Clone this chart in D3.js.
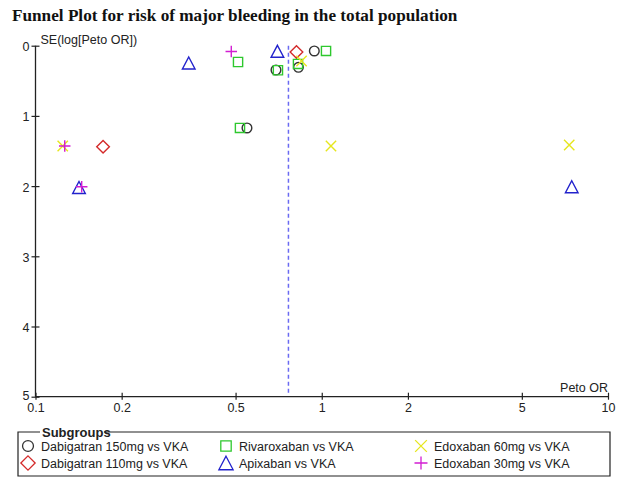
<!DOCTYPE html>
<html><head><meta charset="utf-8">
<script src="https://cdn.jsdelivr.net/npm/d3@7"></script>
<style>body{margin:0;background:#fff}svg{display:block}</style>
</head><body><svg id="c" width="630" height="479"></svg>
<script>
const title = "Funnel Plot for risk of major bleeding in the total population";
const yLabel = "SE(log[Peto OR])";
const xLabel = "Peto OR";
const xTicks = [0.1, 0.2, 0.5, 1, 2, 5, 10];
const xTickLabels = ["0.1", "0.2", "0.5", "1", "2", "5", "10"];
const yTicks = [0, 1, 2, 3, 4, 5];
const pooledOR = 0.765;

const seriesNames = ["Dabigatran 150mg vs VKA", "Dabigatran 110mg vs VKA", "Rivaroxaban vs VKA", "Apixaban vs VKA", "Edoxaban 60mg vs VKA", "Edoxaban 30mg vs VKA"];
const seriesShapes = ["circle", "diamond", "square", "triangle", "cross", "plus"];
const seriesColors = ["#333333", "#d42a2a", "#2ec82e", "#2222cc", "#e6e61e", "#d21ed2"];

const dab150OR = [0.942, 0.692, 0.829, 0.548];
const dab150SE = [0.075, 0.346, 0.308, 1.172];
const dab110OR = [0.816, 0.1722];
const dab110SE = [0.09, 1.439];
const rivaOR = [0.510, 1.035, 0.703, 0.826, 0.518];
const rivaSE = [0.232, 0.075, 0.35, 0.26, 1.172];
const apixOR = [0.343, 0.700, 0.1419, 7.47];
const apixSE = [0.246, 0.08, 2.02, 2.009];
const edo60OR = [0.850, 0.1245, 1.077, 7.32];
const edo60SE = [0.218, 1.429, 1.429, 1.415];
const edo30OR = [0.483, 0.1265, 0.145];
const edo30SE = [0.083, 1.429, 2.009];

const seriesOR = [dab150OR, dab110OR, rivaOR, apixOR, edo60OR, edo30OR];
const seriesSE = [dab150SE, dab110SE, rivaSE, apixSE, edo60SE, edo30SE];

const svg = d3.select("#c");
const x = d3.scaleLog().domain([0.1, 10]).range([35.5, 608]);
const y = d3.scaleLinear().domain([0, 5]).range([45.7, 396.7]);
const sans = "'Liberation Sans', Arial, sans-serif";

svg.append("text").attr("x", 12).attr("y", 21)
  .attr("font-family", "'Liberation Serif', 'Times New Roman', serif")
  .attr("font-weight", "bold").attr("font-size", 17.2).attr("fill", "#111").text(title);

// Y axis
const yAxis = svg.append("g").attr("transform", `translate(${x(0.1)},0)`)
  .call(d3.axisLeft(y).tickValues(yTicks).tickSize(4).tickFormat(d3.format("d")));
yAxis.selectAll(".tick line").attr("x1", 4).attr("x2", -4);
// X axis
const xAxis = svg.append("g").attr("transform", `translate(0,${y(5)})`)
  .call(d3.axisBottom(x).tickValues(xTicks).tickSize(3).tickFormat((d, i) => xTickLabels[i]));
xAxis.selectAll(".tick line").attr("y1", -4).attr("y2", 3);
[yAxis, xAxis].forEach(g => {
  g.select(".domain").attr("stroke", "#222").attr("stroke-width", 1.3);
  g.selectAll(".tick line").attr("stroke", "#222").attr("stroke-width", 1.2);
  g.selectAll(".tick text").attr("font-family", sans).attr("font-size", 12.5).attr("fill", "#222");
});
yAxis.selectAll(".tick text").attr("x", -6).attr("dy", "0.4em");
yAxis.selectAll(".tick").filter(d => d === 5).select("text").attr("dy", "0.22em");
xAxis.selectAll(".tick text").attr("y", 6);
yAxis.select(".domain").attr("d", `M0,${y(0)}V${y(5)}`);
xAxis.select(".domain").attr("d", `M${x(0.1)},0H${x(10)}`);

svg.append("text").attr("x", x(0.1) + 5).attr("y", y(0) - 2).attr("font-family", sans)
  .attr("font-size", 12.5).attr("fill", "#222").text(yLabel);
svg.append("text").attr("x", x(10)).attr("y", y(5) - 5).attr("text-anchor", "end").attr("font-family", sans)
  .attr("font-size", 12.5).attr("fill", "#222").text(xLabel);

// pooled line
svg.append("line").attr("x1", x(pooledOR)).attr("x2", x(pooledOR)).attr("y1", y(0)).attr("y2", y(5) - 2)
  .attr("stroke", "#6a6af2").attr("stroke-width", 1.5).attr("stroke-dasharray", "4,3");

function shapePath(shape, s) {
  switch (shape) {
    case "circle": { const r = s * 0.42; return `M${-r},0A${r},${r} 0 1,0 ${r},0A${r},${r} 0 1,0 ${-r},0Z`; }
    case "square": { const h = s * 0.4; return `M${-h},${-h}H${h}V${h}H${-h}Z`; }
    case "diamond": { const h = s * 0.55; return `M0,${-h}L${h},0L0,${h}L${-h},0Z`; }
    case "triangle": { const w = s * 0.55, h = s * 0.52; return `M0,${-h}L${w},${h}L${-w},${h}Z`; }
    case "cross": { const h = s * 0.45; return `M${-h},${-h}L${h},${h}M${-h},${h}L${h},${-h}`; }
    case "plus": { const h = s * 0.5; return `M${-h},0H${h}M0,${-h}V${h}`; }
  }
}

const points = [];
seriesOR.forEach((arr, si) => arr.forEach((v, i) => points.push({ s: si, or: v, se: seriesSE[si][i] })));
svg.append("g").selectAll("path").data(points).join("path")
  .attr("transform", d => `translate(${x(d.or)},${y(d.se)})`)
  .attr("d", d => shapePath(seriesShapes[d.s], 11.5))
  .attr("fill", "none").attr("stroke", d => seriesColors[d.s]).attr("stroke-width", 1.4);

// Legend
const lg = svg.append("g");
const bx0 = 18, bx1 = 610, by0 = 432, by1 = 476;
lg.append("path").attr("d", `M40,${by0}H${bx0}V${by1}H${bx1}V${by0}H104`).attr("fill", "none")
  .attr("stroke", "#222").attr("stroke-width", 1.2);
lg.append("text").attr("x", 42).attr("y", 437).attr("font-family", sans).attr("font-weight", "bold")
  .attr("font-size", 13).attr("fill", "#222").text("Subgroups");
const colX = [28, 226, 421];
const rowY = [446, 463];
const order = [0, 1, 2, 3, 4, 5];
order.forEach((si, k) => {
  const cx = colX[Math.floor(k / 2)], cy = rowY[k % 2];
  lg.append("path").attr("transform", `translate(${cx},${cy})`).attr("d", shapePath(seriesShapes[si], 13))
    .attr("fill", "none").attr("stroke", seriesColors[si]).attr("stroke-width", 1.3);
  lg.append("text").attr("x", cx + 13).attr("y", cy + 4.5).attr("font-family", sans).attr("font-size", 12.5)
    .attr("fill", "#222").text(seriesNames[si]);
});
</script></body></html>
